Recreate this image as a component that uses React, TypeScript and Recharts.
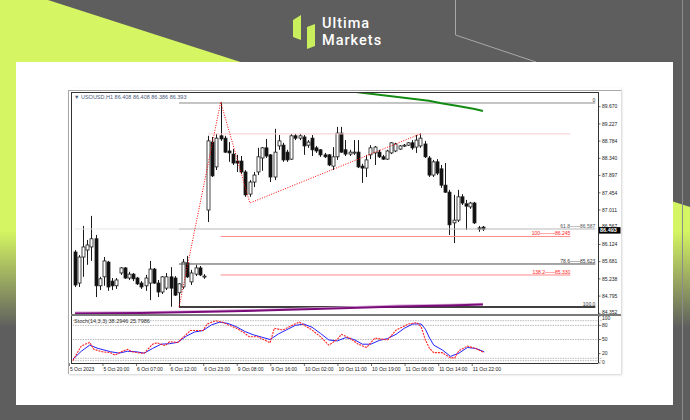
import {
  ComposedChart,
  Bar,
  Line,
  XAxis,
  YAxis,
  ReferenceLine,
} from "recharts";

// USOUSD H1 candles
const opens = [
  85.93, 85.13, 85.8, 85.98, 86.06, 86.27, 85.06, 85.29, 85.67, 85.18, 85.06, 85.39, 85.52, 85.26, 85.36, 85.26,
  85.13, 85.06, 85.13, 85.49, 85.13, 84.9, 85.0, 85.29, 85.26, 84.88, 85.03, 85.65, 85.16, 85.36, 85.52, 85.31,
  87.01, 88.76, 88.12, 88.92, 88.86, 88.53, 88.45, 88.27, 88.27, 87.99, 87.42, 87.73, 87.99, 88.35, 88.61, 88.43,
  87.86, 88.66, 88.68, 88.5, 88.32, 88.92, 88.86, 88.89, 88.68, 88.86, 88.61, 88.56, 88.43, 88.43, 88.14, 88.38,
  88.99, 88.56, 88.45, 88.48, 88.5, 88.14, 88.09, 88.43, 88.48, 88.5, 88.38, 88.32, 88.48, 88.53, 88.58, 88.66,
  88.68, 88.74, 88.63, 88.66, 88.71, 88.35, 87.91, 88.25, 88.07, 87.65, 87.47, 86.68, 86.75, 87.35, 87.17, 87.09,
  87.19, 86.55, 86.57,
];
const highs = [
  85.98, 85.85, 86.6, 86.24, 86.86, 86.37, 85.29, 85.8, 85.7, 85.26, 85.26, 85.54, 85.54, 85.42, 85.39, 85.29,
  85.18, 85.34, 85.7, 85.52, 85.21, 85.31, 85.39, 85.54, 85.31, 85.13, 85.75, 85.83, 85.47, 85.6, 85.57, 85.36,
  88.92, 88.89, 88.97, 89.79, 88.92, 88.76, 88.58, 88.43, 88.4, 88.04, 87.78, 87.99, 88.61, 88.63, 88.84, 88.45,
  89.1, 88.94, 88.74, 88.56, 88.97, 88.97, 88.97, 88.94, 88.81, 88.94, 88.66, 88.58, 88.48, 88.45, 88.63, 89.15,
  89.15, 88.81, 88.56, 88.81, 88.81, 88.2, 88.43, 88.68, 88.66, 88.56, 88.43, 88.56, 88.76, 88.74, 88.68, 88.71,
  88.76, 88.81, 88.94, 88.99, 88.79, 88.4, 88.3, 88.32, 88.17, 88.22, 87.53, 87.4, 87.53, 87.42, 87.27, 87.22,
  87.22, 86.6, 86.6,
];
const lows = [
  85.03, 85.03, 85.29, 85.6, 85.7, 84.77, 84.95, 85.06, 84.93, 84.95, 84.98, 85.34, 85.24, 85.21, 85.18, 85.08,
  84.98, 84.93, 84.69, 85.11, 84.77, 84.85, 84.95, 84.52, 84.8, 84.51, 84.98, 85.26, 85.08, 85.31, 85.31, 85.24,
  86.7, 87.86, 88.04, 88.79, 88.48, 88.25, 88.17, 87.99, 87.94, 87.35, 87.35, 87.6, 87.91, 88.02, 88.35, 87.73,
  87.78, 88.56, 88.25, 88.25, 88.3, 88.81, 88.81, 88.43, 88.61, 88.4, 88.48, 88.38, 88.35, 88.14, 88.04, 88.3,
  88.48, 88.4, 88.4, 88.43, 88.09, 87.71, 87.86, 88.32, 88.17, 88.35, 88.3, 88.3, 88.45, 88.5, 88.56, 88.63,
  88.66, 88.56, 88.48, 88.61, 88.35, 87.86, 87.86, 87.91, 87.58, 87.45, 86.37, 86.16, 86.7, 87.14, 86.5, 87.04,
  86.65, 86.45, 86.47,
];
const closes = [
  85.08, 85.8, 86.06, 86.11, 86.27, 85.06, 85.24, 85.7, 85.03, 85.06, 85.21, 85.52, 85.26, 85.36, 85.24, 85.11,
  85.03, 85.26, 85.49, 85.13, 84.9, 85.29, 85.29, 85.0, 84.82, 85.11, 85.67, 85.29, 85.39, 85.52, 85.34, 85.31,
  88.79, 87.89, 88.86, 88.84, 88.5, 88.48, 88.22, 88.22, 87.99, 87.4, 87.73, 87.91, 88.38, 88.61, 88.4, 87.86,
  88.5, 88.79, 88.3, 88.3, 88.92, 88.86, 88.92, 88.66, 88.76, 88.56, 88.53, 88.43, 88.38, 88.17, 88.38, 88.99,
  88.5, 88.45, 88.5, 88.5, 88.12, 88.09, 88.3, 88.61, 88.63, 88.38, 88.32, 88.53, 88.74, 88.71, 88.66, 88.68,
  88.74, 88.61, 88.81, 88.86, 88.38, 87.91, 88.25, 87.96, 87.65, 87.47, 86.63, 86.75, 87.35, 87.19, 87.11, 87.19,
  86.68, 86.52, 86.52,
];

// indicator turning points: [bar index, value]
const zigzag = [[25, 84.51], [35, 89.79], [42, 87.19], [83, 88.97]];
const maGreen = [[60, 90.2], [68, 90.04], [76, 89.94], [80, 89.89], [85, 89.82], [88, 89.76], [92, 89.69], [96, 89.61], [98, 89.56]];
const maPurple = [[0, 84.35], [16, 84.36], [32, 84.39], [47, 84.43], [64, 84.48], [78, 84.53], [90, 84.55], [98, 84.58]];
const maLilac = [[0, 84.37], [16, 84.38], [32, 84.41], [47, 84.45], [64, 84.5], [78, 84.55], [90, 84.57], [98, 84.6]];

const stochMain = [
  [0, 5], [1, 21], [2, 36], [4, 44], [5, 29], [7, 24], [9, 22], [10, 17], [12, 26], [13, 29], [14, 24], [16, 21],
  [17, 21], [19, 40], [20, 43], [22, 37], [23, 45], [25, 44], [28, 69], [31, 69], [32, 83], [34, 90], [36, 86],
  [37, 81], [39, 74], [41, 63], [42, 56], [44, 56], [47, 43], [48, 74], [50, 70], [52, 79], [54, 87], [55, 81],
  [57, 70], [59, 56], [61, 38], [63, 50], [64, 61], [66, 53], [68, 40], [70, 33], [72, 53], [75, 49], [77, 70],
  [80, 83], [82, 86], [83, 77], [84, 49], [85, 31], [86, 22], [88, 22], [90, 11], [91, 11], [92, 26], [94, 36],
  [96, 31], [98, 22],
];
const stochSignal = [
  [0, 8], [2, 25], [4, 38], [6, 31], [9, 24], [11, 21], [13, 25], [15, 24], [17, 21], [19, 31], [21, 40], [23, 41],
  [25, 44], [27, 57], [29, 66], [31, 69], [33, 81], [35, 87], [37, 84], [39, 77], [41, 67], [43, 60], [45, 55],
  [47, 50], [49, 62], [51, 71], [53, 80], [55, 83], [57, 76], [59, 63], [61, 49], [63, 47], [65, 54], [67, 50],
  [69, 40], [71, 40], [73, 48], [75, 52], [77, 61], [79, 74], [81, 83], [83, 83], [84, 72], [85, 53], [86, 38],
  [88, 28], [90, 14], [92, 21], [94, 33], [96, 31], [98, 24],
];

const priceTicks = [89.67, 89.227, 88.784, 88.34, 87.897, 87.454, 87.011, 86.567, 86.124, 85.681, 85.238, 84.795, 84.352];
const lastPrice = 86.493;
const stochTicks = [100, 80, 50, 20, 0];
const stochLevels = [90, 80, 50, 10, 5];
const timeLabels = [
  "5 Oct 2023", "5 Oct 20:00", "6 Oct 07:00", "6 Oct 12:00", "6 Oct 23:00", "9 Oct 08:00", "9 Oct 16:00",
  "10 Oct 02:00", "10 Oct 11:00", "10 Oct 19:00", "11 Oct 06:00", "11 Oct 14:00", "11 Oct 22:00",
];

// fibonacci retracement (grey/black) and expansion (red)
const fibPrices = [89.765, 86.522, 85.621, 84.514];
const fibText = ["0", "61.8\u2014\u201486.587", "78.6\u2014\u201485.623", "100.0"];
const expPrices = [86.33, 85.338];
const expText = ["100\u2014\u2014\u201486.245", "138.2\u2014\u201485.330"];
const swingHigh = 88.97;

const SLOTS = 127;
const FONT = "'Liberation Sans', Arial, sans-serif";

const lookup = (pts: number[][]) => new Map(pts.map(([i, v]) => [i, v]));
const zigMap = lookup(zigzag);
const greenMap = lookup(maGreen);
const purpleMap = lookup(maPurple);
const lilacMap = lookup(maLilac);
const kMap = lookup(stochMain);
const dMap = lookup(stochSignal);

const rows = Array.from({ length: SLOTS }, (_, i) => {
  const has = i < opens.length;
  return {
    i,
    o: has ? opens[i] : null,
    h: has ? highs[i] : null,
    l: has ? lows[i] : null,
    c: has ? closes[i] : null,
    range: has ? [lows[i], highs[i]] : null,
    zig: zigMap.get(i) ?? null,
    maG: greenMap.get(i) ?? null,
    maP: purpleMap.get(i) ?? null,
    maL: lilacMap.get(i) ?? null,
    k: kMap.get(i) ?? null,
    d: dMap.get(i) ?? null,
  };
});

function Candle(props: any) {
  const { x, y, width, height, payload } = props;
  if (!payload || payload.o == null) return null;
  const { o, h, l, c } = payload;
  const top = Math.min(y, y + height);
  const span = Math.abs(height);
  const k = h > l ? span / (h - l) : 0;
  const cx = Math.round(x + width / 2) + 0.5;
  const bTop = top + (h - Math.max(o, c)) * k;
  const bBot = top + (h - Math.min(o, c)) * k;
  const up = c >= o;
  return (
    <g>
      <line x1={cx} x2={cx} y1={top} y2={top + span} stroke="#1a1a1a" strokeWidth={1} />
      <rect
        x={cx - 1.5}
        y={bTop}
        width={3}
        height={Math.max(bBot - bTop, 1)}
        fill={up ? "#fff" : "#111"}
        stroke="#1a1a1a"
        strokeWidth={0.8}
      />
    </g>
  );
}

function PriceTick(props: any) {
  const { y, payload } = props;
  const v = payload.value;
  if (v === lastPrice) {
    return (
      <g>
        <rect x={598.5} y={y - 3} width={22} height={6.5} fill="#000" />
        <text x={600} y={y + 2} fontSize={5.5} fontWeight={700} fill="#fff" fontFamily={FONT}>
          {v.toFixed(3)}
        </text>
      </g>
    );
  }
  // nudge the labels that sit against the price box / panel edge
  const dy = v === 86.567 ? -1.5 : v === 84.352 ? -1.2 : 0;
  return (
    <g>
      <line x1={598} x2={600.5} y1={y} y2={y} stroke="#333" strokeWidth={0.7} />
      <text x={602} y={y + 1.8 + dy} fontSize={5} fill="#222" fontFamily={FONT}>
        {v.toFixed(3)}
      </text>
    </g>
  );
}

function StochTick(props: any) {
  const { y, payload } = props;
  const dy = payload.value === 100 ? 2.2 : payload.value === 0 ? -1 : 0;
  return (
    <g>
      <line x1={598} x2={600.5} y1={y} y2={y} stroke="#333" strokeWidth={0.7} />
      <text x={602} y={y + 1.8 + dy} fontSize={5} fill="#222" fontFamily={FONT}>
        {payload.value}
      </text>
    </g>
  );
}

function TimeTick(props: any) {
  const { x, payload } = props;
  const label = timeLabels[payload.value / 8];
  if (!label) return null;
  return (
    <g>
      <line x1={x - 3.5} x2={x - 3.5} y1={363} y2={366} stroke="#333" strokeWidth={0.7} />
      <text x={x - 3} y={370.5} fontSize={5} fill="#222" fontFamily={FONT}>
        {label}
      </text>
    </g>
  );
}

const endLabel = (text: string, color: string) => (p: any) => {
  const vb = p.viewBox || {};
  return (
    <text x={vb.x + vb.width} y={vb.y - 1.2} textAnchor="end" fontSize={5} fill={color} fontFamily={FONT}>
      {text}
    </text>
  );
};

const fibColors = ["#8a8a8a", "#b8b8b8", "#4a4a4a", "#000"];

function Box({ l, t, w, h, bg }: { l: number; t: number; w: number; h: number; bg: string }) {
  return <div style={{ position: "absolute", left: l, top: t, width: w, height: h, background: bg }} />;
}

const logoText = {
  position: "absolute" as const,
  left: 322,
  fontSize: 14.5,
  lineHeight: "17px",
  fontWeight: 500,
  letterSpacing: 1,
  color: "#fff",
  fontFamily: "Roboto, sans-serif",
  whiteSpace: "nowrap" as const,
};

export default function App() {
  return (
    <div style={{ position: "absolute", left: 0, top: 0, width: 690, height: 420, overflow: "hidden", background: "#5e5e5e" }}>
      <svg width={690} height={420} style={{ position: "absolute", left: 0, top: 0 }}>
        <defs>
          <linearGradient id="limeFade" x1="0" y1="0" x2="0" y2="420" gradientUnits="userSpaceOnUse">
            <stop offset="0" stopColor="#d5f562" />
            <stop offset="0.55" stopColor="#d5f562" />
            <stop offset="0.78" stopColor="#d5f562" stopOpacity="0" />
          </linearGradient>
        </defs>
        <polygon points="0,0 48,0 1350,420 0,420" fill="url(#limeFade)" />
        <polyline points="455.5,0 455.5,35 536,62" fill="none" stroke="#a8a8a8" strokeWidth={1} />
        <line x1={682.5} y1={0} x2={682.5} y2={420} stroke="#8c8c8c" strokeWidth={1} />
        <polygon points="293,20 301,15 301,40 293,37" fill="#c9ef5c" />
        <polygon points="307,27 315,24 315,46 307,49" fill="#c9ef5c" />
      </svg>
      <div style={{ ...logoText, top: 15 }}>Ultima</div>
      <div style={{ ...logoText, top: 32 }}>Markets</div>

      <Box l={16} t={62} w={657} h={343} bg="#fff" />
      <div
        style={{
          position: "absolute",
          left: 68,
          top: 88,
          width: 553,
          height: 286,
          background: "#fff",
          boxShadow: "1px 1px 2px rgba(0,0,0,0.18)",
        }}
      />

      <div style={{ position: "absolute", left: 0, top: 0 }}>
        <ComposedChart
          width={690}
          height={320}
          data={rows}
          margin={{ top: 92, right: 58.4, bottom: 6, left: 72.9 }}
        >
          <XAxis dataKey="i" type="category" hide />
          <YAxis
            orientation="right"
            width={30}
            type="number"
            domain={[84.334, 90.048]}
            allowDataOverflow
            ticks={[...priceTicks, lastPrice]}
            interval={0}
            axisLine={false}
            tickLine={false}
            tick={<PriceTick />}
          />
          <ReferenceLine
            segment={[{ x: 0, y: fibPrices[1] }, { x: 25, y: fibPrices[1] }]}
            stroke="#e6e6e6"
            strokeWidth={1}
          />
          <ReferenceLine
            segment={[{ x: 32, y: swingHigh }, { x: 119, y: swingHigh }]}
            stroke="#f7cccc"
            strokeWidth={1}
          />
          {fibPrices.map((p, n) => (
            <ReferenceLine
              key={"fib" + n}
              segment={[{ x: 25, y: p }, { x: 125, y: p }]}
              stroke={fibColors[n]}
              strokeWidth={n === 3 ? 1.5 : 1}
              label={endLabel(fibText[n], n === 1 ? "#555" : "#333")}
            />
          ))}
          {expPrices.map((p, n) => (
            <ReferenceLine
              key={"exp" + n}
              segment={[{ x: 35, y: p }, { x: 119, y: p }]}
              stroke="#ff8a8a"
              strokeWidth={1}
              label={endLabel(expText[n], "#ff1a1a")}
            />
          ))}
          <Line dataKey="maL" stroke="#d9a9d9" strokeWidth={2} dot={false} connectNulls isAnimationActive={false} />
          <Line dataKey="maP" stroke="#7a0c7a" strokeWidth={2} dot={false} connectNulls isAnimationActive={false} />
          <Line dataKey="maG" stroke="#148c14" strokeWidth={2} dot={false} connectNulls isAnimationActive={false} />
          <Bar dataKey="range" shape={(p: any) => <Candle {...p} />} isAnimationActive={false} />
          <Line
            dataKey="zig"
            stroke="#ff0000"
            strokeWidth={1}
            strokeDasharray="1 1.5"
            dot={false}
            connectNulls
            isAnimationActive={false}
          />
        </ComposedChart>
      </div>

      <div style={{ position: "absolute", left: 0, top: 0 }}>
        <ComposedChart
          width={690}
          height={380}
          data={rows}
          margin={{ top: 316, right: 58.4, bottom: 7, left: 72.9 }}
        >
          <XAxis
            dataKey="i"
            type="category"
            height={10}
            interval={7}
            axisLine={false}
            tickLine={false}
            tick={<TimeTick />}
          />
          <YAxis
            orientation="right"
            width={30}
            type="number"
            domain={[0, 100]}
            ticks={stochTicks}
            interval={0}
            axisLine={false}
            tickLine={false}
            tick={<StochTick />}
          />
          {stochLevels.map((v) => (
            <ReferenceLine key={"lv" + v} y={v} stroke="#a8a8a8" strokeWidth={0.8} strokeDasharray="1.5 1" />
          ))}
          <Line dataKey="d" stroke="#2222ff" strokeWidth={1} dot={false} connectNulls isAnimationActive={false} />
          <Line
            dataKey="k"
            stroke="#ff2020"
            strokeWidth={1.1}
            strokeDasharray="2 1"
            dot={false}
            connectNulls
            isAnimationActive={false}
          />
        </ComposedChart>
      </div>

      {/* terminal window frame */}
      <Box l={68} t={90} w={553} h={1} bg="#a8a8a8" />
      <Box l={68} t={90} w={1} h={284} bg="#a8a8a8" />
      <Box l={71} t={92} w={527} h={1} bg="#333" />
      <Box l={71} t={92} w={1} h={271} bg="#333" />
      <Box l={598} t={92} w={1} h={271} bg="#333" />
      <Box l={71} t={313.5} w={550} h={2} bg="#7a7a7a" />
      <Box l={71} t={363} w={527} h={1} bg="#333" />

      <div
        style={{
          position: "absolute",
          left: 74,
          top: 93.5,
          fontSize: 5.5,
          lineHeight: "6px",
          color: "#4a5a7a",
          fontFamily: FONT,
          whiteSpace: "nowrap",
        }}
      >
        {"\u25BC USOUSD,H1  86.408 86.408 86.386 86.393"}
      </div>
      <div
        style={{
          position: "absolute",
          left: 74,
          top: 317.5,
          fontSize: 5.5,
          lineHeight: "6px",
          color: "#333",
          fontFamily: FONT,
          whiteSpace: "nowrap",
        }}
      >
        Stoch(14,3,3) 38.2946 25.7986
      </div>
    </div>
  );
}
